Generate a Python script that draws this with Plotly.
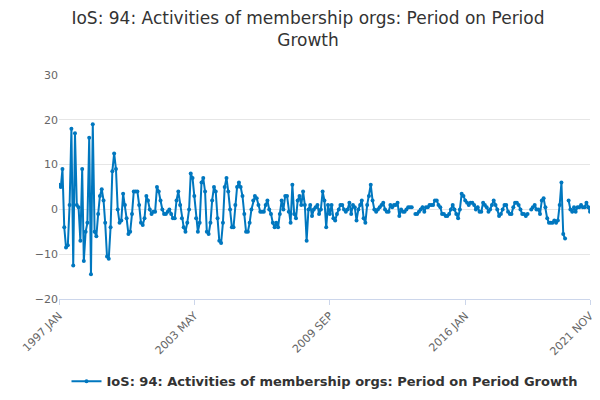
import plotly.graph_objects as go
import pandas as pd

dates = pd.date_range("1997-01-01", "2021-11-01", freq="MS")
growth = [
    5.5, 5, 9, -4, -8.5, -8, 1, 18, -12.5, 17, 1, 0.5,
    -7, 9, -11.5, -5, -3, 16, -14.5, 19, -5, -6, -1, 3,
    4.5, 2, -3, -10.5, -11, -4, 8.5, 12.5, 9, 0, -3, -2.5,
    3.5, 1, -2, -5.5, -5, -1, 4, 4, 4, 1, -3, -3.5,
    -2, 3, 2, 0, -1, -0.5, -0.5, 5, 4, 2, 0, -1,
    -1, -0.5, 0, -1, -2, -2, 2, 4, 1, -2, -4, -5,
    -3, 0, 8, 7, 3, -2, -5, -3, 6, 7, 4, -5,
    -5.5, -3, 2, 5, 4, -2, -7, -7.5, -3, 5, 7, 4,
    0, -4, -4, 1, 5, 6, 5, 3, -1, -5, -5, -3,
    0, 2, 3, 2.5, 1, -0.5, -0.5, -0.5, 1, 2, 0, -1,
    -3, -4, -3, -4, -1, 2, 0, 3, 3, -0.5, -3, 5.5,
    -1, -2, 2, 3, 1, 4, 1, -7, 0, 1, -1.5, 0,
    0.5, 1, -1, 0, 4, 2, -4, 1, -1, 1, -2, -2.5,
    -1, 0, 1, 1, 0, -0.5, 0, 1.5, -1, 1, 0.5, -2.5,
    0, 1, 2, -2, -3, 1, 3, 5.5, 2, 0, -0.5, 0,
    0.5, 1, 1.5, 0, -0.5, -0.5, 1, 0.5, 1, 1, 1.5, -1.5,
    0, -0.5, -0.5, 0, 0.5, 0.5, 0.5, None, -1, -1, -0.5, 0,
    0.5, -0.5, 0.5, 0.5, 1, 1, 1, 2, 2, 1, 0.5, -1,
    -1, -1.5, -1.5, -1, 0, 1, 0, -1, -2, 0, 3.5, 3,
    2, 1.5, 1, 1.5, 1.5, 1, 0, 0.5, -0.5, -0.5, 1.5, 1,
    0.5, -0.5, 0, 1, 2, 1, 0, -1.5, -1, 0, 1, 1,
    -0.5, -1, -1, 0.5, 1.5, 1.5, 1, 0, -1, -1, -1.5, -1,
    None, 0, 0.5, 1, 0, 0, -1, 2, 2.5, 0.5, -2, -3,
    -3, -3, -2.5, -3, -2.5, 1, 6, -5.5, -6.5, None, 2, 0,
    -0.5, 0.5, -0.5, 0.5, 0.5, 1, 0.5, 0.5, 1.5, 0.5, -0.5,
]
tick_dates = ["1997-01-01", "2003-05-01", "2009-09-01", "2016-01-01", "2021-11-01"]
tick_labels = ["1997 JAN", "2003 MAY", "2009 SEP", "2016 JAN", "2021 NOV"]

fig = go.Figure()
fig.add_trace(go.Scatter(
    x=dates, y=growth, mode="lines+markers",
    name="<b>IoS: 94: Activities of membership orgs: Period on Period Growth</b>",
    line=dict(color="#0077bf", width=2),
    marker=dict(size=4, color="#0077bf"),
))
fig.update_layout(
    width=600, height=400,
    title=dict(text="IoS: 94: Activities of membership orgs: Period on Period<br>Growth",
               x=0.5, y=0.96, font=dict(size=17, color="#333")),
    font=dict(family="DejaVu Sans", color="#666", size=11),
    plot_bgcolor="white", paper_bgcolor="white",
    margin=dict(l=45, r=18, t=67, b=108),
    showlegend=True,
    legend=dict(orientation="h", x=0.5, xanchor="center", y=-0.3, yanchor="top",
                font=dict(size=13, color="#333")),
    xaxis=dict(tickvals=tick_dates, ticktext=tick_labels, tickangle=-45,
               showgrid=False, showline=True, linecolor="#ccd6eb",
               ticks="outside", tickcolor="#ccd6eb",
               range=["1997-01-01", "2021-11-01"]),
    yaxis=dict(range=[-20, 30], tickvals=[-20, -10, 0, 10, 20, 30],
               gridcolor="#e6e6e6", zeroline=False),
)
fig.add_annotation(text="Source:", xref="paper", yref="paper", x=1.0, y=-0.44,
                   xanchor="right", yanchor="top", showarrow=False,
                   font=dict(size=12, color="#666"))
fig.write_html("out.html")
